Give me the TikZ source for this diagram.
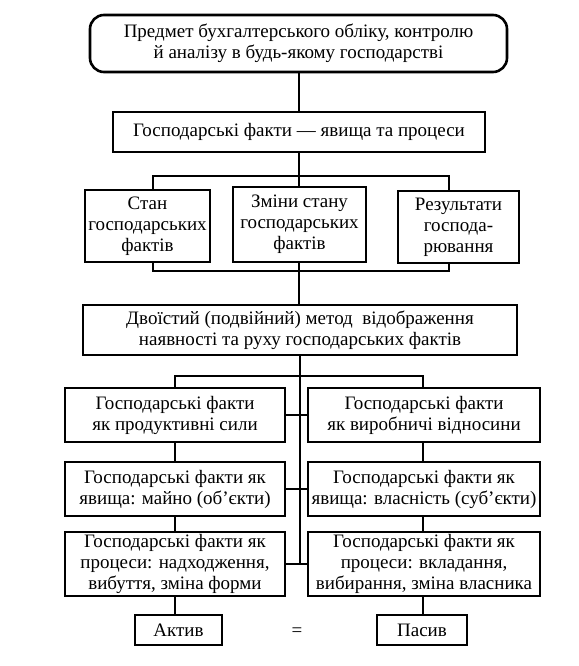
\documentclass[tikz,border=0pt]{standalone}
\usepackage{fontspec}
\setmainfont{Liberation Serif}
\usetikzlibrary{backgrounds}

\begin{document}
\begin{tikzpicture}[x=1pt,y=-1pt,
    box/.style={draw,line width=2.6pt,fill=white,align=center,inner sep=0pt,
        font=\fontsize{19}{21}\selectfont},
    link/.style={line width=2pt}]

    % page size
    \useasboundingbox (0,0) rectangle (578,666);

    % subject and facts
    \node[box,rounded corners=14pt,minimum width=417,minimum height=57] (subject) at (298.5,43.5)
        {Предмет бухгалтерського обліку, контролю\\й аналізу в будь-якому господарстві};
    \node[box,minimum width=372,minimum height=40] (facts) at (299,132)
        {Господарські факти — явища та процеси};

    % three kinds of facts
    \node[box,minimum width=125,minimum height=72] (state) at (147.5,226) {Стан\\господарських\\фактів};
    \node[box,minimum width=133,minimum height=75] (change) at (299.5,224.5) {Зміни стану\\господарських\\фактів};
    \node[box,minimum width=121,minimum height=72] (result) at (458.5,227) {Результати\\господа-\\рювання};

    % method
    \node[box,minimum width=434,minimum height=50] (method) at (300,330)
        {Двоїстий (подвійний) метод\ \ відображення\\наявності та руху господарських фактів};

    % left column
    \node[box,minimum width=220,minimum height=54] (prodforce) at (175,415) {Господарські факти\\як продуктивні сили};
    \node[box,minimum width=220,minimum height=54] (property) at (175,489) {Господарські факти як\\явища: майно (об’єкти)};
    \node[box,minimum width=220,minimum height=64] (inflow) at (175,564) {Господарські факти як\\процеси: надходження,\\вибуття, зміна форми};

    % right column
    \node[box,minimum width=232,minimum height=54] (relations) at (424,415) {Господарські факти\\як виробничі відносини};
    \node[box,minimum width=232,minimum height=54] (ownership) at (424,489) {Господарські факти як\\явища: власність (суб’єкти)};
    \node[box,minimum width=232,minimum height=64] (investment) at (424,564) {Господарські факти як\\процеси: вкладання,\\вибирання, зміна власника};

    % balance
    \node[box,minimum width=87,minimum height=30] (asset) at (178.5,630) {Актив};
    \node[box,minimum width=90,minimum height=30] (liability) at (422,630) {Пасив};
    \node[font=\fontsize{19}{21}\selectfont] (equal) at (297,632) {=};

    % connectors
    \begin{scope}[on background layer]
        \coordinate (frametl) at (153,176);
        \coordinate (framebr) at (449,271);
        \coordinate (barr) at (423,376);

        \draw[link] (subject.south) -- (subject.south |- facts.north);
        \draw[link] (facts.south) -- (facts.south |- method.north);
        \draw[link] (frametl) rectangle (framebr);
        \draw[link] (method.south) -- (method.south |- inflow.east);

        \draw[link] (asset.north -| prodforce) |- (barr) -- (liability.north -| barr);

        \foreach \l/\r in {prodforce/relations,property/ownership,inflow/investment}
            \draw[link] (\l.east) -- (\r.west);
    \end{scope}

\end{tikzpicture}
\end{document}
